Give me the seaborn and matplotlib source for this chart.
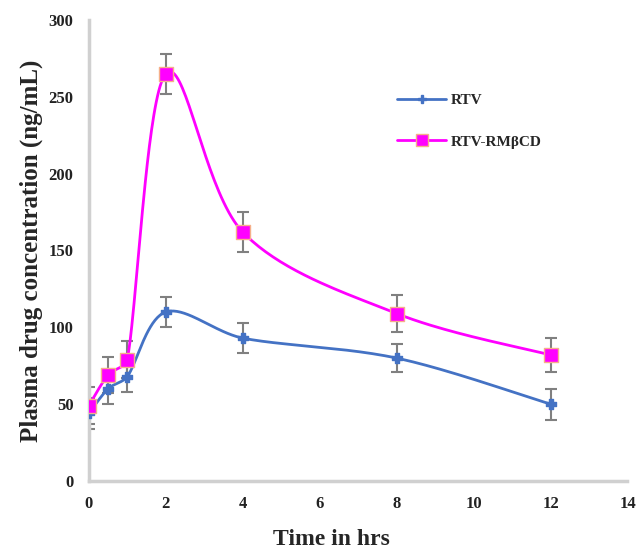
import numpy as np
import pandas as pd
import matplotlib
matplotlib.use("Agg")
import matplotlib.pyplot as plt
import seaborn as sns

# values
time_hrs = [0, 0.5, 1, 2, 4, 8, 12]
rtv_conc = [44, 60, 68, 110, 93, 80, 50]
rtv_err = [10, 10, 10, 10, 10, 9, 10]
cd_conc = [49, 69, 79, 265, 162, 109, 82]
cd_err = [12, 12, 12, 13, 13, 12, 11]
series_names = ["RTV", "RTV-RMβCD"]
x_ticks = [0, 2, 4, 6, 8, 10, 12, 14]
y_ticks = [0, 50, 100, 150, 200, 250, 300]

X_MAX, Y_MAX = 14, 300


def smooth_curve(x, y, n=40, cap=0.35):
    # Excel-like smoothed line: Catmull-Rom bezier arms (in screen-ish units),
    # capped relative to the segment length so short segments don't dip
    sx, sy = 540 / X_MAX, 461 / Y_MAX
    p = np.column_stack([np.asarray(x, float) * sx, np.asarray(y, float) * sy])
    m = len(p)
    arm = np.array([(p[min(i + 1, m - 1)] - p[max(i - 1, 0)]) / 6 for i in range(m)])
    t = np.linspace(0, 1, n)[:, None]
    pts = []
    for i in range(m - 1):
        L = np.linalg.norm(p[i + 1] - p[i])
        a1, a2 = arm[i].copy(), arm[i + 1].copy()
        for a in (a1, a2):
            nrm = np.linalg.norm(a)
            if nrm > cap * L:
                a *= cap * L / nrm
        c1 = p[i] + a1
        c2 = p[i + 1] - a2
        b = ((1 - t) ** 3 * p[i] + 3 * (1 - t) ** 2 * t * c1
             + 3 * (1 - t) * t ** 2 * c2 + t ** 3 * p[i + 1])
        pts.append(b)
    pts = np.vstack(pts)
    return pts[:, 0] / sx, pts[:, 1] / sy


sns.set_theme(style="white")
plt.rcParams["font.family"] = ["Liberation Serif", "DejaVu Serif"]

df = pd.DataFrame({
    "time": time_hrs * 2,
    "conc": rtv_conc + cd_conc,
    "err": rtv_err + cd_err,
    "series": [series_names[0]] * len(time_hrs) + [series_names[1]] * len(time_hrs),
})

fig = plt.figure(figsize=(6.39, 5.52), dpi=100)
ax = fig.add_axes([0.139, 0.1286, 0.843, 0.8352])

styles = {
    series_names[0]: dict(color="#4472C4", marker="P", ms=7, mec="#4472C4", mfc="#4472C4"),
    series_names[1]: dict(color="#FF00FF", marker="s", ms=10, mec="#F5B08A", mfc="#FF00FF"),
}

for name, sub in df.groupby("series", sort=False):
    st = styles[name]
    ax.errorbar(sub["time"], sub["conc"], yerr=sub["err"], fmt="none",
                ecolor="#808080", elinewidth=1.5, capsize=4, capthick=1.5, zorder=2)
    cx, cy = smooth_curve(sub["time"], sub["conc"])
    ax.plot(cx, cy, color=st["color"], lw=2, zorder=3)
    sns.scatterplot(x=sub["time"], y=sub["conc"], ax=ax, marker=st["marker"],
                    s=st["ms"] ** 2, color=st["mfc"], edgecolor=st["mec"],
                    linewidth=1, zorder=4, legend=False)
    ax.plot([], [], color=st["color"], lw=2, marker=st["marker"], ms=st["ms"] * 0.8,
            mfc=st["mfc"], mec=st["mec"], label=name)

ax.set_xlim(0, X_MAX)
ax.set_ylim(0, Y_MAX)
ax.set_xticks(x_ticks)
ax.set_yticks(y_ticks)
ax.tick_params(axis="both", direction="out", length=4, width=1.5, color="#c8c8c8",
               labelsize=12, labelcolor="#222222", pad=7)
for lab in ax.get_xticklabels() + ax.get_yticklabels():
    lab.set_fontweight("bold")
for s in ["top", "right"]:
    ax.spines[s].set_visible(False)
for s in ["left", "bottom"]:
    ax.spines[s].set_color("#d0d0d0")
    ax.spines[s].set_linewidth(2.5)
ax.set_xlabel("")
ax.set_ylabel("Plasma drug concentration (ng/mL)", fontsize=18, fontweight="bold", labelpad=4)
fig.text(331 / 639, 0.004, "Time in hrs", fontsize=17, fontweight="bold",
         ha="center", va="bottom")

fig.legend(loc="upper left", bbox_to_anchor=(0.6, 0.855), frameon=False,
           labelspacing=1.8, handlelength=3.2, handletextpad=0.3,
           prop={"weight": "bold", "size": 11})

fig.savefig("out.png", dpi=100)
